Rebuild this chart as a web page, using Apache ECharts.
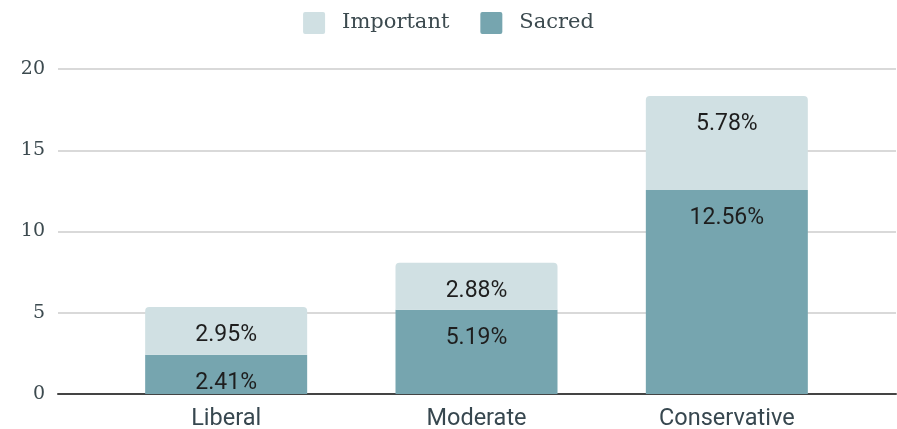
<!DOCTYPE html>
<html>
<head>
<meta charset="utf-8">
<script src="https://cdn.jsdelivr.net/npm/echarts@6/dist/echarts.min.js"></script>
<style>
html,body{margin:0;padding:0;background:#fff;}
#chart{width:897px;height:429px;}
</style>
</head>
<body>
<div id="chart"></div>
<script>
const categories = ['Liberal', 'Moderate', 'Conservative'];
const sacred = [2.41, 5.19, 12.56];
const important = [2.95, 2.88, 5.78];
const yTicks = { min: 0, max: 20, interval: 5 };

const chart = echarts.init(document.getElementById('chart'), null, { renderer: 'canvas' });
const labelStyle = {
  show: true,
  position: 'insideTop',
  distance: 17,
  fontFamily: 'Roboto',
  fontSize: 23,
  color: '#1e1e1e',
  formatter: p => p.value.toFixed(2) + '%'
};
chart.setOption({
  animation: false,
  backgroundColor: '#fff',
  legend: {
    top: 7,
    left: 'center',
    itemWidth: 22,
    itemHeight: 22,
    itemGap: 31,
    icon: 'path://M2,0 L20,0 Q22,0 22,2 L22,20 Q22,22 20,22 L2,22 Q0,22 0,20 L0,2 Q0,0 2,0 Z',
    textStyle: { fontFamily: 'DejaVu Serif', fontSize: 21, color: '#3c4a4f', padding: [0, 0, 0, 12] },
    data: ['Important', 'Sacred']
  },
  grid: [
    { left: 58, right: 1, top: 69, bottom: 35, outerBoundsMode: 'none', containLabel: false },
    { left: 101, right: 45, top: 69, bottom: 35, outerBoundsMode: 'none', containLabel: false }
  ],
  xAxis: [
    { gridIndex: 0, type: 'category', data: categories, axisLabel: { show: false }, axisTick: { show: false },
      axisLine: { show: true, lineStyle: { color: '#444', width: 2 } } },
    { gridIndex: 1, type: 'category', data: categories, axisTick: { show: false }, axisLine: { show: false },
      axisLabel: { fontFamily: 'Roboto', fontSize: 23.5, color: '#37474f', margin: 13 } }
  ],
  yAxis: [
    { gridIndex: 0, type: 'value', min: yTicks.min, max: yTicks.max, interval: yTicks.interval,
      axisLine: { show: false }, axisTick: { show: false },
      axisLabel: { fontFamily: 'DejaVu Serif', fontSize: 19, color: '#3c4a4f', margin: 13 },
      splitLine: { lineStyle: { color: '#cccccc', width: 1.5 } } },
    { gridIndex: 1, type: 'value', min: yTicks.min, max: yTicks.max, interval: yTicks.interval, show: false,
      splitLine: { show: false } }
  ],
  series: [
    { name: 'Sacred', type: 'bar', stack: 'total', xAxisIndex: 1, yAxisIndex: 1, data: sacred,
      barWidth: 162, itemStyle: { color: '#76a5af' }, label: labelStyle },
    { name: 'Important', type: 'bar', stack: 'total', xAxisIndex: 1, yAxisIndex: 1, data: important,
      barWidth: 162, itemStyle: { color: '#d0e0e3', borderRadius: [4, 4, 0, 0] }, label: labelStyle }
  ]
});
</script>
</body>
</html>
